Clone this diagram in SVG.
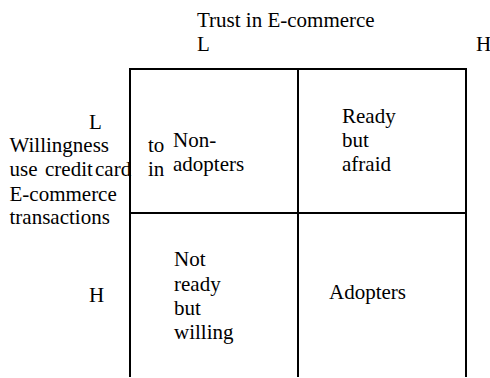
<svg xmlns="http://www.w3.org/2000/svg" width="490" height="378" viewBox="0 0 490 378">
<style>
.t{font-family:"Liberation Serif",serif;font-size:21px;fill:#000}
.ln{stroke:#000;stroke-width:2;fill:none}
</style>
<rect width="490" height="378" fill="#fff"/>
<g id="axes">
<text class="t" x="197" y="26.5">Trust in E-commerce</text>
<text class="t" x="197" y="51">L</text>
<text class="t" x="476" y="51">H</text>
<text class="t" x="89" y="129">L</text>
<text class="t" x="89" y="302">H</text>
<text class="t" x="9.5" y="152">Willingness</text>
<text class="t" x="148" y="152">to</text>
<text class="t" x="9.5" y="176">use</text>
<text class="t" x="45" y="176">credit</text>
<text class="t" x="95" y="176">card</text>
<text class="t" x="148" y="176">in</text>
<text class="t" x="9.5" y="201">E-commerce</text>
<text class="t" x="9.5" y="224">transactions</text>
</g>
<g id="connectors">
<path class="ln" d="M130 377V69H466V377M298 69V377M130 213H466"/>
</g>
<g id="q1"><text class="t" x="173" y="147">Non-</text><text class="t" x="173" y="171">adopters</text></g>
<g id="q2"><text class="t" x="342" y="123">Ready</text><text class="t" x="342" y="147">but</text><text class="t" x="342" y="171">afraid</text></g>
<g id="q3"><text class="t" x="174" y="266">Not</text><text class="t" x="174" y="291">ready</text><text class="t" x="174" y="315">but</text><text class="t" x="174" y="339">willing</text></g>
<g id="q4"><text class="t" x="329" y="299">Adopters</text></g>
</svg>
